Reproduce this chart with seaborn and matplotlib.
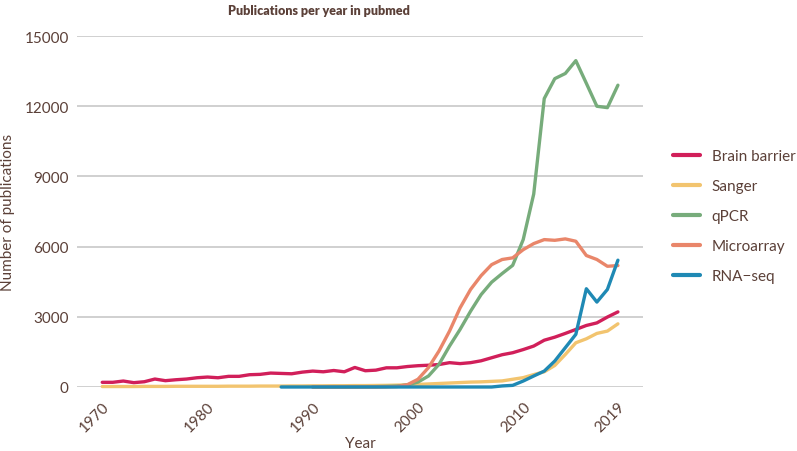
import matplotlib.pyplot as plt
import pandas as pd
import seaborn as sns

# Data (approximate)
years_all = list(range(1970, 2020))

brain_barrier = [200, 200, 255, 185, 225, 340, 270, 310, 340, 395,
                 425, 395, 455, 455, 525, 540, 595, 580, 565, 635,
                 680, 650, 705, 650, 835, 695, 720, 820, 820, 875,
                 910, 930, 960, 1040, 1000, 1040, 1120, 1250, 1380, 1465,
                 1600, 1750, 2000, 2130, 2290, 2460, 2630, 2740, 2990, 3210]

sanger = [20, 20, 20, 20, 25, 25, 25, 30, 30, 30,
          30, 30, 35, 35, 35, 40, 40, 40, 45, 45,
          50, 50, 55, 55, 60, 60, 65, 70, 80, 90,
          110, 130, 150, 170, 190, 210, 220, 240, 260, 330,
          400, 530, 650, 920, 1390, 1890, 2060, 2290, 2390, 2700]

years_late = list(range(1990, 2020))
qpcr = [0, 0, 0, 0, 5, 10, 15, 25, 40, 90,
        210, 470, 970, 1750, 2460, 3240, 3950, 4480, 4850, 5200,
        6300, 8250, 12330, 13180, 13400, 13950, 12980, 12000, 11940, 12900]

microarray = [0, 0, 0, 0, 0, 0, 0, 5, 20, 100,
              330, 830, 1540, 2390, 3380, 4170, 4760, 5230, 5450, 5520,
              5870, 6130, 6300, 6270, 6330, 6230, 5620, 5450, 5160, 5190]

years_rna = list(range(1987, 2020))
rna_seq = [0, 0, 0, 0, 0, 0, 0, 0, 0, 0,
           0, 0, 0, 0, 0, 0, 0, 0, 0, 0,
           0, 45, 70, 255, 470, 680, 1110, 1680, 2250, 4200,
           3630, 4170, 5420]

series_names = ['Brain barrier', 'Sanger', 'qPCR', 'Microarray', 'RNA\u2212seq']
colors = ['#d11f5a', '#f2c46f', '#77ac7b', '#e9866a', '#1f89b4']

frames = [
    pd.DataFrame({'year': years_all, 'count': brain_barrier, 'series': series_names[0]}),
    pd.DataFrame({'year': years_all, 'count': sanger, 'series': series_names[1]}),
    pd.DataFrame({'year': years_late, 'count': qpcr, 'series': series_names[2]}),
    pd.DataFrame({'year': years_late, 'count': microarray, 'series': series_names[3]}),
    pd.DataFrame({'year': years_rna, 'count': rna_seq, 'series': series_names[4]}),
]
df = pd.concat(frames, ignore_index=True)

sns.set_style('white')
plt.rcParams['font.family'] = ['Lato', 'DejaVu Sans']
text_color = '#5b4038'

fig = plt.figure(figsize=(7.97, 4.52), dpi=100)
ax = fig.add_axes([0.0966, 0.1416, 0.7104, 0.7764])

sns.lineplot(data=df, x='year', y='count', hue='series', hue_order=series_names,
             palette=colors, linewidth=2.4, ax=ax, legend=False)
for line in ax.lines:
    line.set_clip_on(False)
    line.set_solid_joinstyle('round')

ax.set_xlim(1967.6, 2021.4)
ax.set_ylim(0, 15000)
ax.set_xticks([1970, 1980, 1990, 2000, 2010, 2019])
ax.set_yticks([0, 3000, 6000, 9000, 12000, 15000])
ax.set_xticklabels(['1970', '1980', '1990', '2000', '2010', '2019'],
                   rotation=45, ha='right', rotation_mode='anchor')
ax.yaxis.grid(True, color='#c8c8c8', linewidth=1.2)
ax.set_axisbelow(True)
for s in ax.spines.values():
    s.set_visible(False)
ax.tick_params(axis='x', length=5, color='#c8c8c8', colors=text_color, labelsize=11, pad=4)
ax.tick_params(axis='y', length=0, colors=text_color, labelsize=11, pad=6)

ax.set_xlabel('Year', color=text_color, fontsize=11, labelpad=1)
ax.set_ylabel('Number of publications', color=text_color, fontsize=11, labelpad=7)
fig.text(319 / 797, 1 - 11 / 452, 'Publications per year in pubmed', ha='center', va='center',
         color=text_color, fontsize=9, fontweight='heavy')

handles = [plt.Line2D([], [], color=c, linewidth=3) for c in colors]
leg = fig.legend(handles, series_names, loc='center left', bbox_to_anchor=(0.827, 0.52),
                 frameon=False, fontsize=11, handlelength=1.8, handletextpad=0.75,
                 labelspacing=1.05, labelcolor=text_color)

fig.savefig('out.png', dpi=100)
